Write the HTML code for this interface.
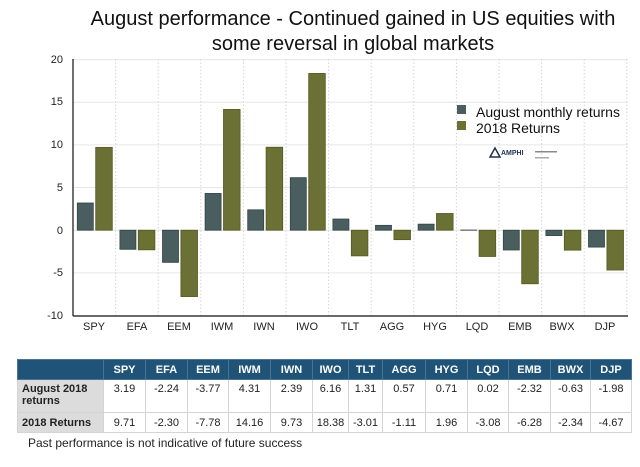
<!DOCTYPE html>
<html><head><meta charset="utf-8"><style>
html,body{margin:0;padding:0;background:#fff;width:640px;height:467px;overflow:hidden;font-family:"Liberation Sans",Arial,sans-serif}
svg{position:absolute;left:0;top:0}
table{position:absolute;left:17px;top:359px;border-collapse:collapse;font-size:11px;table-layout:fixed}
td,th{border:1px solid #d4d4d4;padding:0;text-align:center;color:#222}
th{background:#1f5378;color:#fff;font-weight:bold;height:19px;border-color:#4d7393}
td.l{background:#dcdcdc;text-align:left;padding-left:4px;font-weight:bold}
.foot{position:absolute;left:28px;top:436px;font-size:12px;color:#222}
</style></head><body>
<svg width="640" height="467" id="s">
<text x="353" y="25" font-size="20" text-anchor="middle" fill="#111">August performance - Continued gained in US equities with</text>
<text x="353" y="50" font-size="20" text-anchor="middle" fill="#111">some reversal in global markets</text>
<g font-size="11" fill="#222" text-anchor="end">
<text x="63" y="63">20</text><text x="63" y="105">15</text><text x="63" y="148">10</text>
<text x="63" y="191">5</text><text x="63" y="234">0</text><text x="63" y="276">-5</text><text x="63" y="319">-10</text>
</g>
<g id="g"></g>
<g font-size="11" fill="#222" text-anchor="middle">
<text x="94" y="330">SPY</text><text x="137" y="330">EFA</text><text x="179" y="330">EEM</text><text x="222" y="330">IWM</text><text x="264" y="330">IWN</text><text x="307" y="330">IWO</text><text x="350" y="330">TLT</text><text x="392" y="330">AGG</text><text x="435" y="330">HYG</text><text x="477" y="330">LQD</text><text x="520" y="330">EMB</text><text x="562" y="330">BWX</text><text x="605" y="330">DJP</text>
</g>
<rect x="457" y="105" width="9" height="9" fill="#4a5e60"/>
<text x="476" y="117" font-size="14" fill="#111">August monthly returns</text>
<rect x="457" y="121" width="9" height="9" fill="#6b7035"/>
<text x="476" y="133" font-size="14" fill="#111">2018 Returns</text>
<path d="M490 157 L495 148 L500 157 Z" fill="none" stroke="#1f3050" stroke-width="1.5"/>
<text x="501" y="155" font-size="7" font-weight="bold" fill="#1f3050">AMPHI</text>
<rect x="535" y="151" width="22" height="1.5" fill="#888"/>
<rect x="535" y="157" width="14" height="1.5" fill="#aaa"/>
</svg>
<table>
<colgroup><col style="width:86px"><col style="width:42px"><col style="width:42px"><col style="width:41px"><col style="width:42px"><col style="width:42px"><col style="width:36px"><col style="width:34px"><col style="width:43px"><col style="width:42px"><col style="width:41px"><col style="width:42px"><col style="width:40px"><col style="width:41px"></colgroup>
<tr><th></th><th>SPY</th><th>EFA</th><th>EEM</th><th>IWM</th><th>IWN</th><th>IWO</th><th>TLT</th><th>AGG</th><th>HYG</th><th>LQD</th><th>EMB</th><th>BWX</th><th>DJP</th></tr>
<tr style="height:33px;vertical-align:top"><td class="l" style="padding-top:3px">August 2018<br>returns</td><td style="padding-top:3px">3.19</td><td style="padding-top:3px">-2.24</td><td style="padding-top:3px">-3.77</td><td style="padding-top:3px">4.31</td><td style="padding-top:3px">2.39</td><td style="padding-top:3px">6.16</td><td style="padding-top:3px">1.31</td><td style="padding-top:3px">0.57</td><td style="padding-top:3px">0.71</td><td style="padding-top:3px">0.02</td><td style="padding-top:3px">-2.32</td><td style="padding-top:3px">-0.63</td><td style="padding-top:3px">-1.98</td></tr>
<tr style="height:20px"><td class="l">2018 Returns</td><td>9.71</td><td>-2.30</td><td>-7.78</td><td>14.16</td><td>9.73</td><td>18.38</td><td>-3.01</td><td>-1.11</td><td>1.96</td><td>-3.08</td><td>-6.28</td><td>-2.34</td><td>-4.67</td></tr>
</table>
<div class="foot">Past performance is not indicative of future success</div>
<script>
var g=document.getElementById('g'),h='';
var z=230.2,k=8.53,L=73,W=42.6;
[20,15,10,5,0,-5].forEach(function(v){var y=z-v*k;h+='<line x1="'+L+'" x2="628" y1="'+y+'" y2="'+y+'" stroke="#e6e6e6" stroke-width="1"/>';});
for(var i=1;i<=13;i++){var x=L+i*W;h+='<line x1="'+x+'" x2="'+x+'" y1="59" y2="316" stroke="#d6d6d6" stroke-dasharray="1.5,2"/>';}
var a=[3.19,-2.24,-3.77,4.31,2.39,6.16,1.31,.57,.71,.02,-2.32,-.63,-1.98],b=[9.71,-2.30,-7.78,14.16,9.73,18.38,-3.01,-1.11,1.96,-3.08,-6.28,-2.34,-4.67];
function bar(x,w,v,c,s){var y=v>=0?z-v*k:z,hh=Math.abs(v)*k;h+='<rect x="'+x+'" y="'+y+'" width="'+w+'" height="'+hh+'" fill="'+c+'" stroke="'+s+'" stroke-width="0.8"/>';}
for(var i=0;i<13;i++){var l=L+i*W;
bar(l+4.3,16,a[i],'#4a5e60','#2f4446');bar(l+22.7,16.6,b[i],'#6b7035','#555a1c');}
h+='<line x1="'+L+'" x2="'+L+'" y1="59" y2="316" stroke="#111" stroke-width="1.2"/><line x1="'+L+'" x2="628" y1="316" y2="316" stroke="#111" stroke-width="1.2"/>';
g.innerHTML=h;
</script>
</body></html>
